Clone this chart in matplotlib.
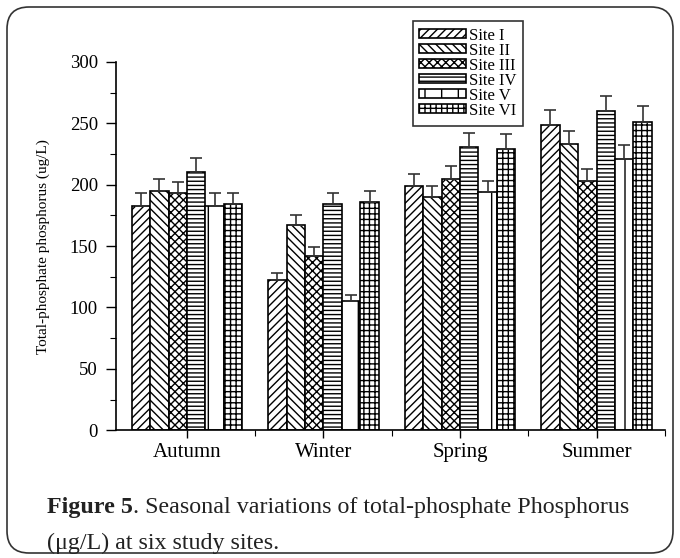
import numpy as np
import matplotlib
matplotlib.use('Agg')
import matplotlib.pyplot as plt
from matplotlib.patches import FancyBboxPatch
from matplotlib.transforms import IdentityTransform

# data
seasons = ['Autumn', 'Winter', 'Spring', 'Summer']
sites = ['Site I', 'Site II', 'Site III', 'Site IV', 'Site V', 'Site VI']
site_1 = [183, 122, 199, 249]
site_2 = [195, 167, 190, 233]
site_3 = [193, 142, 205, 203]
site_4 = [210, 184, 231, 260]
site_5 = [183, 105, 194, 221]
site_6 = [184, 186, 229, 251]
err_1 = [10, 6, 10, 12]
err_2 = [10, 8, 9, 11]
err_3 = [9, 7, 10, 10]
err_4 = [12, 9, 11, 12]
err_5 = [10, 5, 9, 11]
err_6 = [9, 9, 12, 13]

values = [site_1, site_2, site_3, site_4, site_5, site_6]
errors = [err_1, err_2, err_3, err_4, err_5, err_6]
hatches = ['////', '\\\\\\\\', 'xxxx', '----', '|', '+++']

plt.rcParams['font.family'] = ['Liberation Serif', 'DejaVu Serif']
plt.rcParams['hatch.linewidth'] = 1.0
plt.rcParams['hatch.color'] = 'black'

fig = plt.figure(figsize=(6.8, 5.58), dpi=100)
ax = fig.add_axes([0.1706, 0.229, 0.807, 0.66])

x = np.arange(len(seasons))
w = 0.135
for i in range(len(sites)):
    pos = x + (i - 2.5) * w
    ax.bar(pos, values[i], w, facecolor='white', edgecolor='black',
           linewidth=1.2, hatch=hatches[i], label=sites[i])
    ax.errorbar(pos, values[i], yerr=[np.zeros(len(seasons)), errors[i]],
                fmt='none', ecolor='#333333', elinewidth=1.2, capsize=4,
                capthick=1.2)

ax.set_xlim(-0.52, 3.48)
ax.set_ylim(0, 300)
ax.set_xticks(x)
ax.set_xticklabels(seasons, fontsize=15)
ax.set_xticks(x + 0.5, minor=True)
ax.set_yticks(np.arange(0, 301, 50))
ax.set_yticks(np.arange(0, 301, 25), minor=True)
ax.tick_params(axis='y', labelsize=13.5, length=7, width=1, pad=6)
ax.tick_params(axis='x', length=6, width=1, pad=3)
ax.tick_params(which='minor', length=4, width=0.8)
ax.spines['top'].set_visible(False)
ax.spines['right'].set_visible(False)
ax.spines['left'].set_linewidth(1.2)
ax.spines['bottom'].set_linewidth(1.2)
ax.set_ylabel('Total-phosphate phosphorus (ug/L)', fontsize=11, labelpad=14)

leg = ax.legend(loc='upper left', bbox_to_anchor=(0.607, 0.962),
                bbox_transform=fig.transFigure, fontsize=12, frameon=True,
                fancybox=False, edgecolor='black', handlelength=2.8,
                handleheight=0.45, labelspacing=-0.06, handletextpad=0.15,
                borderpad=0.4, borderaxespad=0)
leg.get_frame().set_linewidth(1.2)

# caption
t1 = fig.text(0.069, 0.081, 'Figure 5', fontsize=17.3, fontweight='bold',
              color='#222222')
fig.canvas.draw()
bb = t1.get_window_extent()
fig.text(bb.x1 / fig.bbox.width, 0.081,
         '. Seasonal variations of total-phosphate Phosphorus',
         fontsize=17.3, color='#222222')
fig.text(0.069, 0.016, '(\u03bcg/L) at six study sites.', fontsize=17.3,
         color='#222222')

# rounded frame around everything
frame = FancyBboxPatch((7, 5), 666, 546,
                       boxstyle='round,pad=0,rounding_size=22',
                       transform=IdentityTransform(), facecolor='none',
                       edgecolor='#333333', linewidth=1.2)
fig.patches.append(frame)

fig.savefig('out.png', dpi=100)
